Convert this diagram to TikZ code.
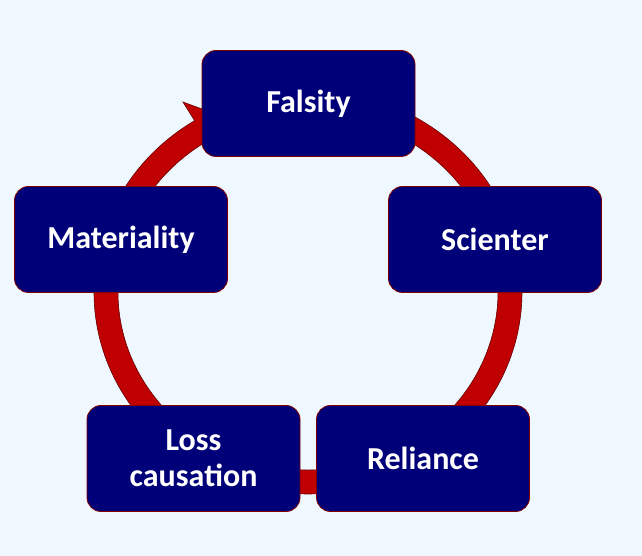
\documentclass[tikz,border=0pt]{standalone}
\usepackage{fontspec}
\setmainfont{Carlito}
\usetikzlibrary{calc}
\begin{document}
\begin{tikzpicture}[x=1pt,y=1pt,
  box/.style={draw=red!50!black,line width=0.8pt,fill=navyc,rounded corners=14pt,minimum width=213pt,minimum height=106pt,text=white,font=\fontsize{32}{36}\selectfont\bfseries,align=center,inner sep=0pt}]
\definecolor{navyc}{HTML}{000078}
\definecolor{ringc}{HTML}{C00000}
\definecolor{bgc}{HTML}{F0F8FF}
\fill[bgc] (0,0) rectangle (642,556);
\useasboundingbox (0,0) rectangle (642,556);
\coordinate (c) at (308,264);
\fill[ringc,draw=red!40!black,line width=0.6pt] ($(c)+(90:214 and 202)$) arc[start angle=90,end angle=-238,x radius=214,y radius=202]
  -- ($(c)+(-238:236 and 224)$) -- ($(c)+(-246:203 and 191)$) -- ($(c)+(-238:172 and 160)$) -- ($(c)+(-238:190 and 178)$)
  arc[start angle=-238,end angle=90,x radius=190,y radius=178] -- cycle;
\node[box] (f) at (308.5,452.5) {Falsity};
\node[box] (s) at (495,316.5) {Scienter};
\node[box] (m) at (121,316.5) {Materiality};
\node[box] (l) at (193.5,97.5) {Loss\\causa\kern0pt tion};
\node[box] (r) at (423,97.5) {Reliance};
\end{tikzpicture}
\end{document}
